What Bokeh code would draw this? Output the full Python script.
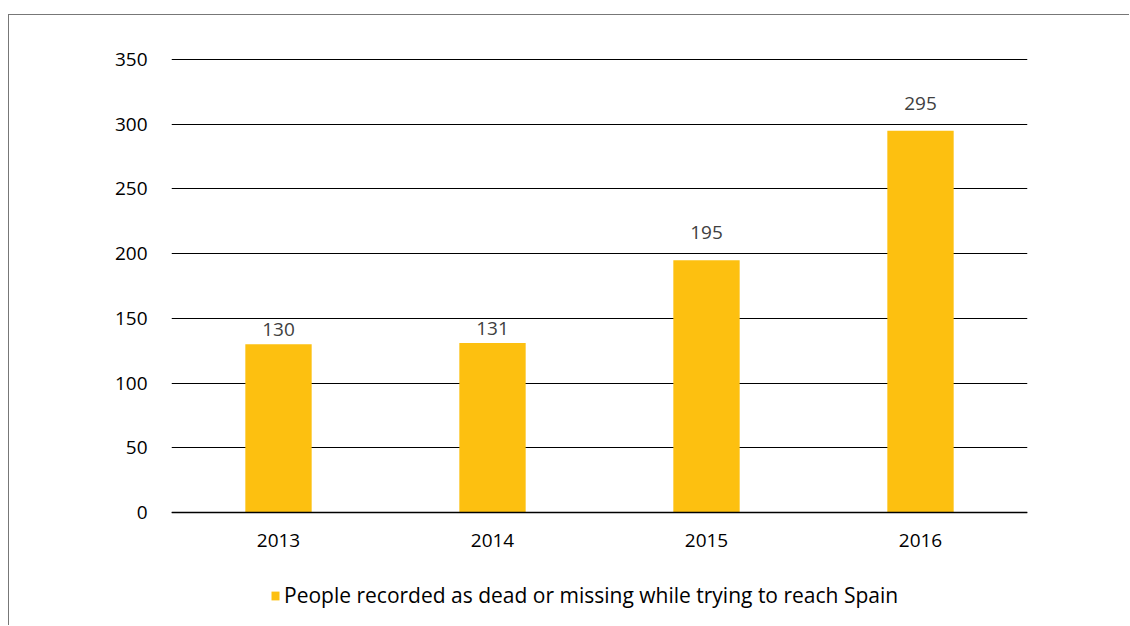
from bokeh.plotting import figure
from bokeh.models import ColumnDataSource, Range1d, FactorRange, Legend, LegendItem
from bokeh.core.properties import value
from bokeh.embed import file_html
from bokeh.resources import INLINE

years = ["2013", "2014", "2015", "2016"]
counts = [130, 131, 195, 295]
y_ticks = [0, 50, 100, 150, 200, 250, 300, 350]
series_name = "People recorded as dead or missing while trying to reach Spain"

FONT = "Open Sans"
BAR = "#FDC010"

# data labels of the two short bars sit closer to the bar top in the original
label_offsets = [-8, -8, -21, -21]

src = ColumnDataSource(dict(year=years, count=counts, label=[str(c) for c in counts],
                            dy=label_offsets))

p = figure(
    width=1121, height=611,
    x_range=FactorRange(*years, range_padding=0),
    y_range=Range1d(-88.08, 364.7),
    output_backend="svg", toolbar_location=None,
    min_border_left=162, min_border_right=103, min_border_top=25, min_border_bottom=0,
)
p.styles = {"border-top": "1px solid #777777", "border-left": "1px solid #777777",
            "margin-top": "14px", "margin-left": "8px"}
p.outline_line_color = None
p.background_fill_color = "white"
p.border_fill_color = "white"

r = p.vbar(x="year", top="count", width=0.31, source=src, fill_color=BAR, line_color=None)
p.text(x="year", y="count", text="label", source=src, text_align="center", text_baseline="bottom",
       y_offset="dy", text_font=value(FONT), text_font_size="19px", text_color="#404040")

p.yaxis.ticker = y_ticks
p.yaxis.axis_line_color = None
p.yaxis.major_tick_line_color = None
p.yaxis.minor_tick_line_color = None
p.yaxis.major_tick_out = 0
p.yaxis.major_tick_in = 0
p.yaxis.major_label_standoff = 24
p.yaxis.major_label_text_font = FONT
p.yaxis.major_label_text_font_size = "19px"
p.yaxis.major_label_text_color = "black"

p.xaxis.fixed_location = 0
p.xaxis.axis_line_color = "black"
p.xaxis.axis_line_width = 1.3
p.xaxis.major_tick_line_color = None
p.xaxis.minor_tick_line_color = None
p.xaxis.major_tick_out = 0
p.xaxis.major_tick_in = 0
p.xaxis.major_label_standoff = 21
p.xaxis.major_label_text_font = FONT
p.xaxis.major_label_text_font_size = "19px"
p.xaxis.major_label_text_color = "black"

p.xgrid.grid_line_color = None
p.ygrid.grid_line_color = "black"
p.ygrid.grid_line_width = 1.2
p.ygrid.ticker = y_ticks

legend = Legend(items=[LegendItem(label=series_name, renderers=[r])],
                location=(99, 17), orientation="horizontal",
                padding=0, margin=0, spacing=0,
                glyph_width=10, glyph_height=11, label_standoff=4,
                label_text_font=FONT, label_text_font_size="21px", label_text_color="black",
                border_line_color=None, background_fill_alpha=0)
p.add_layout(legend, "center")

open("out.html", "w").write(file_html(p, INLINE))
